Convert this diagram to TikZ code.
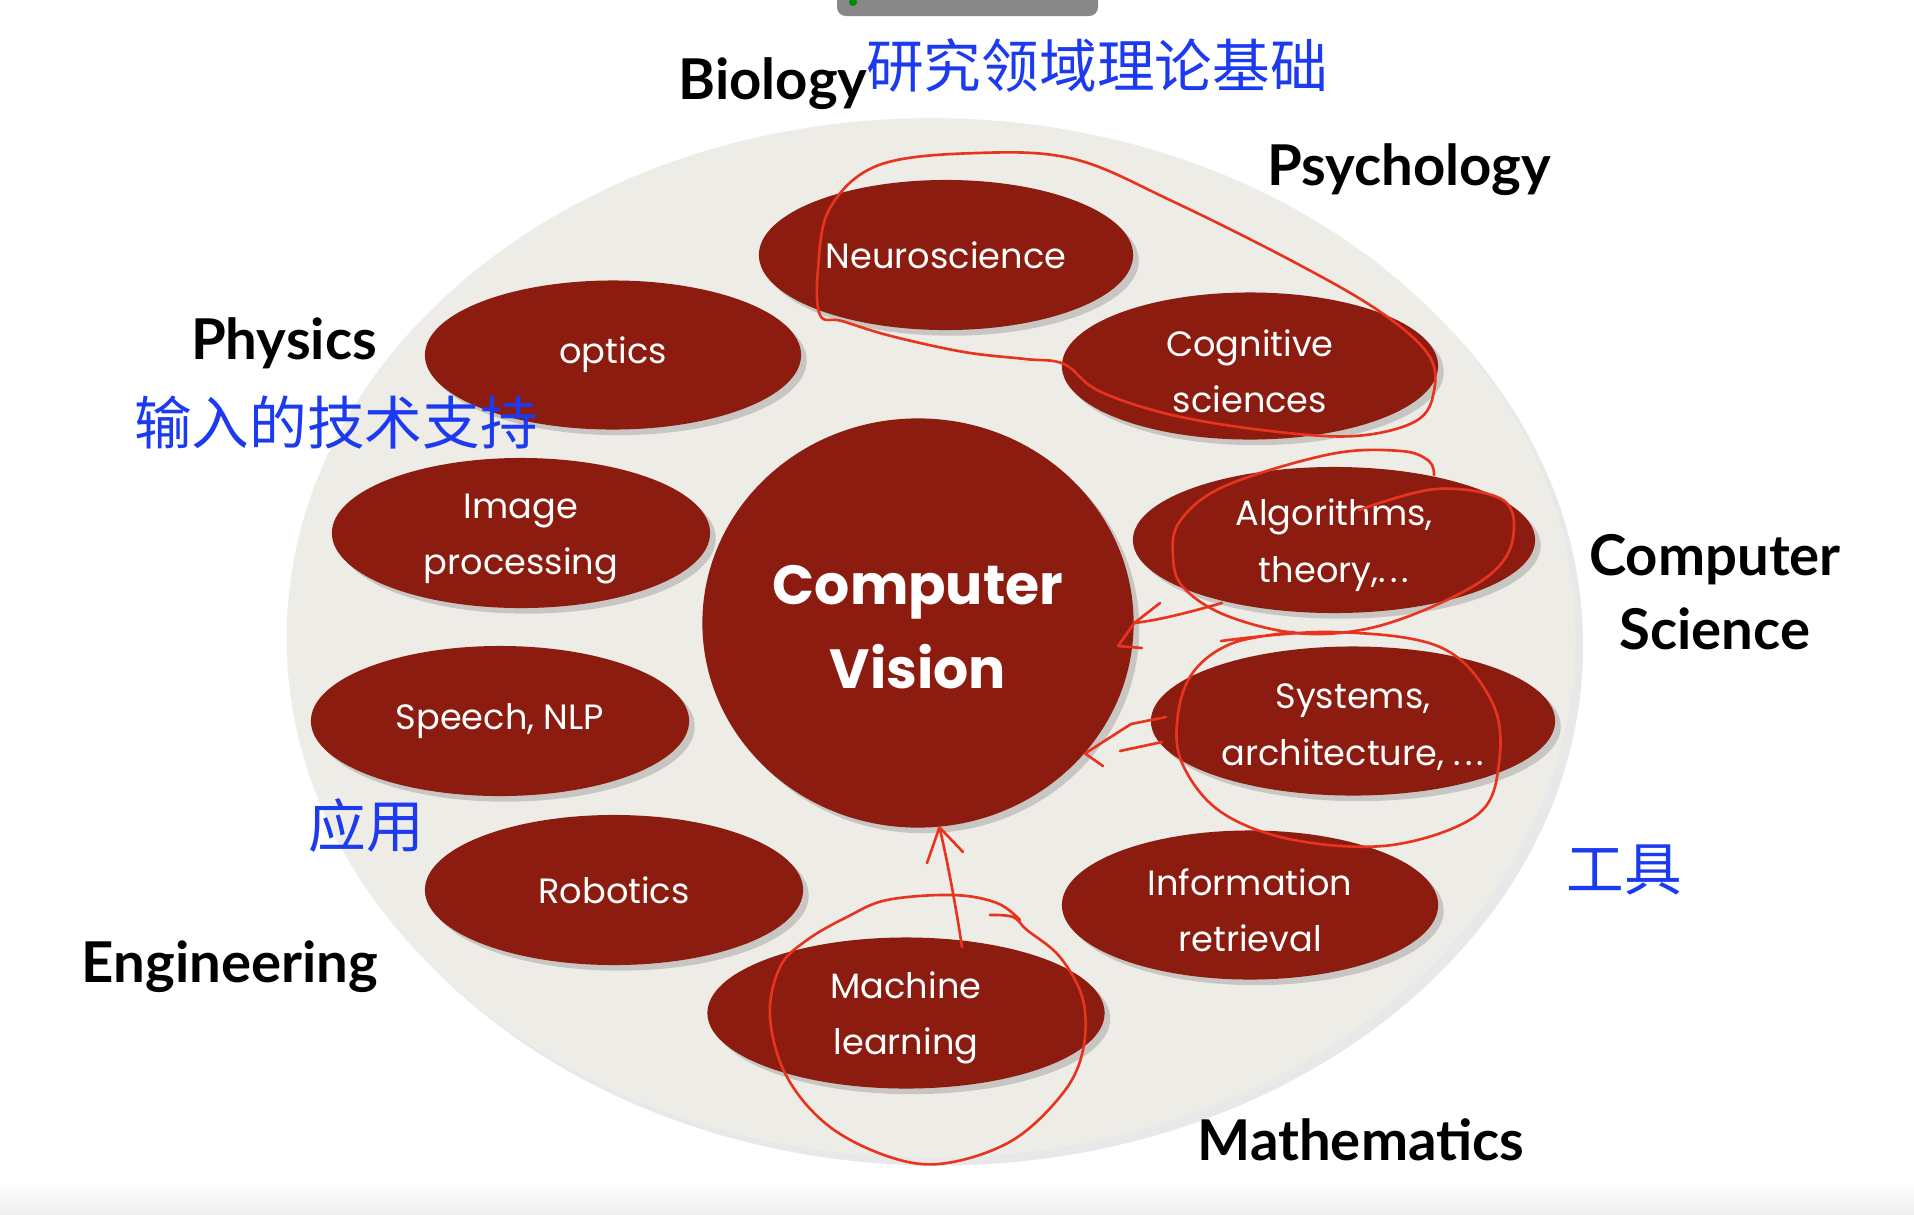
\documentclass[tikz,border=0pt]{standalone}
\usepackage{fontspec}
\usetikzlibrary{shapes.geometric,shadows}
\newfontfamily\popfont{Poppins}
\newfontfamily\labfont{Lato}
\newfontfamily\cjkfont{Noto Sans CJK SC}
\definecolor{cvred}{RGB}{140,28,16}
\definecolor{bgbeige}{RGB}{238,236,230}
\definecolor{cnblue}{RGB}{28,58,240}
\definecolor{inkred}{RGB}{232,52,30}
\newcommand{\topstrut}{\rule{0pt}{10.5pt}}
\newcommand{\bigstrut}{\rule{0pt}{13.5pt}}
\newcommand{\spdots}{.\kern1.2pt.\kern1.2pt.}
\tikzset{
  blob/.style={ellipse, fill=cvred, text=white, align=center, inner sep=0pt,
    font=\popfont\fontsize{10}{16}\selectfont,
    drop shadow={shadow xshift=1.6pt, shadow yshift=-1.6pt, opacity=0.35}},
  lab/.style={font=\labfont\bfseries\fontsize{16}{21}\selectfont, text=black, align=center, inner sep=0pt},
  cn/.style={font=\cjkfont\fontsize{16.4}{20}\selectfont, text=cnblue, inner sep=0pt},
  ink/.style={draw=inkred, line width=0.75pt, line cap=round, line join=round}
}
\begin{document}
\begin{tikzpicture}[x=0.01cm,y=-0.01cm]
\useasboundingbox (0,0) rectangle (1914,1214);
\fill[white] (0,0) rectangle (1914,1214);
\shade[top color=white, bottom color=black!6] (0,1180) rectangle (1914,1214);
% top bar
\fill[black!47, rounded corners=2.5pt] (837,-20) rectangle (1098,16);
\fill[green!55!black] (853,2) circle (4);

% background ellipse
\node[ellipse, fill=bgbeige, minimum width=12.88cm, minimum height=10.39cm, inner sep=0pt,
  drop shadow={shadow xshift=2.2pt, shadow yshift=-2.2pt, opacity=0.18}] (bg) at (931,638) {};

% blobs
\node[blob, minimum width=3.74cm, minimum height=1.50cm] (neuro) at (946,255) {Neuroscience};
\node[blob, minimum width=3.76cm, minimum height=1.49cm] (optics) at (613,355) {optics};
\node[blob, minimum width=3.76cm, minimum height=1.47cm] (cog) at (1250,366) {\topstrut Cognitive\\sciences};
\node[blob, minimum width=3.78cm, minimum height=1.50cm] (img) at (521,533) {\topstrut Image\\processing};
\node[blob, minimum width=4.02cm, minimum height=1.46cm] (alg) at (1334,540) {\topstrut Algorithms,\\theory,\spdots};
\node[blob, minimum width=3.78cm, minimum height=1.50cm] (speech) at (500,721) {Speech, NLP};
\node[blob, minimum width=4.04cm, minimum height=1.49cm] (sys) at (1353,721) {\topstrut Systems,\\architecture, \spdots};
\node[blob, minimum width=3.78cm, minimum height=1.50cm] (robot) at (614,890) {Robotics};
\node[blob, minimum width=3.76cm, minimum height=1.49cm] (info) at (1250,905) {\topstrut Information\\retrieval};
\node[blob, minimum width=3.97cm, minimum height=1.51cm] (ml) at (906,1013) {\topstrut Machine\\learning};
\node[blob, minimum width=4.31cm, minimum height=4.09cm,
  font=\popfont\bfseries\fontsize{15.7}{24}\selectfont] (cv) at (918,623) {\bigstrut Computer\\Vision};

% discipline labels
\node[lab] (biology) at (773,84) {Biology};
\node[lab] (psychology) at (1409,170) {Psychology};
\node[lab] (physics) at (284,343) {Physics};
\node[lab] (cs) at (1715,592) {Computer\\Science};
\node[lab] (engineering) at (230,967) {Engineering};
\node[lab] (math) at (1361,1140) {Mathematics};

% chinese notes
\node[cn] (cn1) at (1097,65) {研究领域理论基础};
\node[cn] (cn2) at (336,422) {输入的技术支持};
\node[cn] (cn3) at (366,826) {应用};
\node[cn] (cn4) at (1624,870) {工具};

% hand-drawn loops
\draw[ink] plot[smooth cycle, tension=0.6] coordinates {
  (820,315) (818,269) (830,208) (879,165) (977,153) (1074,159) (1172,201)
  (1294,262) (1379,311) (1428,354) (1434,391) (1416,421) (1355,436) (1270,431)
  (1172,415) (1099,391) (1064,364) (1025,359) (964,352) (891,336) (842,321)};
\draw[ink] plot[smooth, tension=0.6] coordinates {
  (1359,510) (1436,489) (1503,500) (1513,538) (1492,573) (1436,605) (1366,629)
  (1296,633) (1225,615) (1183,587) (1173,556) (1180,521) (1225,486) (1331,454)
  (1401,451) (1429,461) (1434,475)};
\draw[ink] plot[smooth, tension=0.6] coordinates {
  (1221,641) (1331,632) (1440,647) (1492,702) (1499,763) (1477,815) (1392,845)
  (1294,840) (1221,812) (1182,763) (1178,714) (1194,671) (1233,643) (1294,632)};
\draw[ink] plot[smooth, tension=0.6] coordinates {
  (990,915) (1013,917) (1027,930) (1060,957) (1083,1000) (1083,1050) (1063,1093)
  (1013,1140) (947,1163) (893,1158) (830,1127) (787,1077) (770,1017) (780,967)
  (807,940) (847,917) (887,900) (953,895) (997,903) (1020,920)};

% hand-drawn arrows to Computer Vision
\coordinate (algtail) at (1222,603);
\draw[ink] (algtail) .. controls (1190,612) and (1160,620) .. (cv.east);
\draw[ink] (1160,603) -- (cv.east) -- (1118,646) -- (1142,648);
\coordinate (systail) at (1166,717);
\draw[ink] (systail) -- (1131,724) -- (cv.-38) -- (1103,766);
\draw[ink] (1162,742) -- (1120,751);
\coordinate (mltail) at (962,947);
\draw[ink] (mltail) .. controls (955,900) and (945,850) .. (cv.-84);
\draw[ink] (927,863) -- (cv.-84) -- (963,852);
\end{tikzpicture}
\end{document}
